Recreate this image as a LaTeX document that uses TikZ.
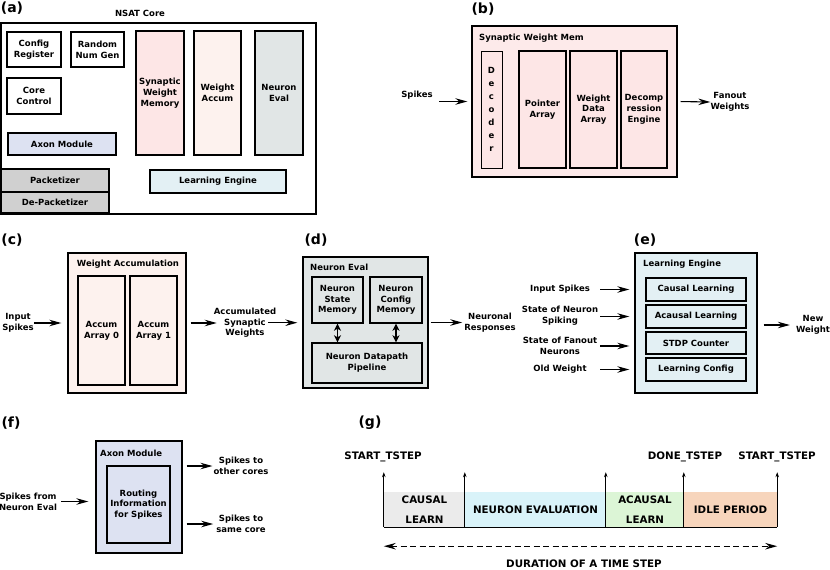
\documentclass[tikz,border=0pt]{standalone}
\usepackage{fontspec}
\setmainfont{DejaVu Sans}
\usetikzlibrary{arrows.meta}
\definecolor{cswm}{HTML}{FDE6E6}
\definecolor{cwacc}{HTML}{FDF2EE}
\definecolor{cneval}{HTML}{E1E6E6}
\definecolor{caxon}{HTML}{DDE2F2}
\definecolor{cpack}{HTML}{D0D0D0}
\definecolor{cleng}{HTML}{E3F0F4}
\definecolor{gcausal}{HTML}{EBEBEB}
\definecolor{gneuron}{HTML}{D9F3F9}
\definecolor{gacausal}{HTML}{DCF5D6}
\definecolor{gidle}{HTML}{F7D5BC}
\newcommand\lbl{\fontsize{8.5}{10.7}\selectfont\bfseries}
\newcommand\glbl{\fontsize{10.3}{20}\selectfont\bfseries}
\tikzset{
  box/.style={draw, line width=1.4pt, align=center, inner sep=0pt, font=\lbl},
  sz/.style 2 args={minimum width=#1, minimum height=#2},
  txt/.style={align=center, inner sep=0pt, font=\lbl},
  arr/.style={-{Stealth[length=12pt,width=6.5pt,inset=4pt]}, line width=1.1pt},
  darr/.style={{Stealth[length=7pt,width=7pt,inset=2pt]}-{Stealth[length=7pt,width=7pt,inset=2pt]}, line width=1.7pt},
  varr/.style={-{Stealth[length=5pt,width=3.5pt]}, line width=1.1pt},
  tag/.style={font=\fontsize{14}{14}\selectfont\bfseries, inner sep=0pt},
  seg/.style={inner sep=0pt, align=center, font=\glbl},
}
\begin{document}
\begin{tikzpicture}[x=1pt,y=-1pt]
\useasboundingbox (0,0) rectangle (830,570);

% ---------- (a)
\node[tag] (ta) at (12,8) {(a)};
\node[txt] (nsat) at (140,13) {NSAT Core};
\node[box, line width=1.6pt, sz={315}{191}] (acore) at (158.5,118.5) {};
\node[box, sz={54}{35}] (cfg) at (34,49.5) {Config\\Register};
\node[box, sz={53}{35}] (rng) at (97.5,49.5) {Random\\Num Gen};
\node[box, sz={54}{36}] (cc) at (34,96) {Core\\Control};
\node[box, fill=caxon, sz={108}{22}] (axa) at (62,144) {Axon Module};
\node[box, fill=cswm, sz={48}{124}] (swm) at (160,93) {Synaptic\\Weight\\Memory};
\node[box, fill=cwacc, sz={47}{124}] (wacc) at (217.5,93) {Weight\\Accum};
\node[box, fill=cneval, sz={48}{124}] (nev) at (279,93) {Neuron\\Eval};
\node[box, fill=cpack, sz={108}{23}] (pack) at (55,180.5) {Packetizer};
\node[box, fill=cpack, sz={108}{21}] (dpack) at (55,202.5) {De-Packetizer};
\node[box, fill=cleng, sz={136}{23}] (leng) at (218,181.5) {Learning Engine};

% ---------- (b)
\node[tag] (tb) at (483,9) {(b)};
\node[box, fill=cswm!85!white, sz={205}{151}] (bbox) at (574.5,101.5) {};
\node[txt, anchor=west] (btitle) at (479,38) {Synaptic Weight Mem};
\node[box, line width=1pt, fill=cswm, sz={21}{117}, font=\fontsize{8.5}{12.9}\selectfont\bfseries] (dec) at (491.5,109.5) {D\\e\\c\\o\\d\\e\\r};
\node[box, fill=cswm, sz={47}{117}] (ptr) at (542.5,109.5) {Pointer\\Array};
\node[box, fill=cswm, sz={47}{117}] (wda) at (593.5,109.5) {Weight\\Data\\Array};
\node[box, fill=cswm, sz={46}{117}] (dce) at (644,109.5) {Decomp\\ression\\Engine};
\node[txt] (spk) at (417,95) {Spikes};
\node[txt] (fw) at (730,102) {Fanout\\Weights};
\draw[arr, shorten >=4pt] ([xshift=-32pt]bbox.west) -- (bbox.west);
\draw[arr, shorten <=3pt] (bbox.east) -- (fw.west);

% ---------- (c)
\node[tag] (tc) at (12,240) {(c)};
\node[box, fill=cwacc, sz={118}{140}] (cbox) at (127,323) {};
\node[txt] (ctitle) at (128,264) {Weight Accumulation};
\node[box, fill=cwacc, sz={47}{109}] (aa0) at (101.5,330.5) {Accum\\Array 0};
\node[box, fill=cwacc, sz={47}{109}] (aa1) at (153.5,330.5) {Accum\\Array 1};
\node[txt] (inS) at (18,322.5) {Input\\Spikes};
\node[txt] (acw) at (245,322.7) {Accumulated\\Synaptic\\Weights};
\draw[arr, shorten >=6pt] (inS.east |- cbox.west) -- (cbox.west);
\draw[arr, shorten <=4pt] (cbox.east) -- ([xshift=3pt]acw.west |- cbox.east);

% ---------- (d)
\node[tag] (td) at (316,240) {(d)};
\node[box, fill=cneval, sz={125}{131}] (dbox) at (365.5,322.5) {};
\node[txt, anchor=west] (dtitle) at (310,267.5) {Neuron Eval};
\node[box, fill=cneval, sz={51}{46}] (nsm) at (337.5,300) {Neuron\\State\\Memory};
\node[box, fill=cneval, sz={52}{46}] (ncm) at (396,300) {Neuron\\Config\\Memory};
\node[box, fill=cneval, sz={110}{40}] (ndp) at (367,363) {Neuron Datapath\\Pipeline};
\draw[darr] (nsm.south) -- (nsm.south |- ndp.north);
\draw[darr] (ncm.south) -- (ncm.south |- ndp.north);
\draw[arr, shorten >=5pt] ([xshift=23pt]acw.center) -- (dbox.west |- acw.center);
\node[txt] (nresp) at (490,322.5) {Neuronal\\Responses};
\draw[arr, shorten <=2pt, shorten >=2pt] (dbox.east) -- (nresp.west |- dbox.east);

% ---------- (e)
\node[tag] (te) at (645,240) {(e)};
\node[box, fill=cleng, sz={122}{140}] (ebox) at (696,323) {};
\node[txt, anchor=west] (etitle) at (643,264) {Learning Engine};
\node[box, fill=cleng, sz={100}{23}] (cl) at (696,289.5) {Causal Learning};
\node[box, fill=cleng, sz={100}{23}] (al) at (696,316.5) {Acausal Learning};
\node[box, fill=cleng, sz={100}{22}] (stdp) at (696,343) {STDP Counter};
\node[box, fill=cleng, sz={100}{23}] (lc) at (696,369.5) {Learning Config};
\node[txt] (ei1) at (560,289) {Input Spikes};
\node[txt] (ei2) at (560,316) {State of Neuron\\Spiking};
\node[txt] (ei3) at (560,345.5) {State of Fanout\\Neurons};
\node[txt] (ei4) at (560,369) {Old Weight};
\draw[arr, shorten >=5pt] ([xshift=-34pt]ebox.west |- cl) -- (ebox.west |- cl);
\draw[arr, shorten >=5pt] ([xshift=-34pt]ebox.west |- al) -- (ebox.west |- al);
\draw[arr, shorten >=5pt] ([xshift=-34pt,yshift=-3pt]ebox.west |- stdp) -- ([yshift=-3pt]ebox.west |- stdp);
\draw[arr, shorten >=5pt] ([xshift=-34pt]ebox.west |- lc) -- (ebox.west |- lc);
\node[txt] (nw) at (813,325) {New\\Weight};
\draw[arr, shorten <=6pt, shorten >=6pt] (ebox.east |- nw) -- (nw.west);

% ---------- (f)
\node[tag] (tf) at (11,423) {(f)};
\node[box, fill=caxon, sz={86}{112}] (fbox) at (139,497) {};
\node[txt, anchor=west] (ftitle) at (100,453) {Axon Module};
\node[box, fill=caxon, sz={63}{77}] (rt) at (138.5,504.5) {Routing\\Information\\for Spikes};
\node[txt] (sfn) at (28,501.5) {Spikes from\\Neuron Eval};
\node[txt] (so) at (241,466) {Spikes to\\other cores};
\node[txt] (ss) at (241,524) {Spikes to\\same core};
\draw[arr, shorten <=4pt, shorten >=7pt] (sfn.east) -- (fbox.west |- sfn.east);
\draw[arr, shorten <=4pt, shorten >=1pt] (fbox.east |- so) -- (so.west);
\draw[arr, shorten <=4pt, shorten >=3pt] (fbox.east |- ss) -- (ss.west);

% ---------- (g)
\node[tag] (tg) at (370,423) {(g)};
\node[seg, fill=gcausal, sz={81}{35}] (gc) at (424.5,509.5) {CAUSAL\\LEARN};
\node[seg, fill=gneuron, sz={141}{35}] (gn) at (535.5,509.5) {NEURON EVALUATION};
\node[seg, fill=gacausal, sz={78}{35}] (ga) at (645,509.5) {ACAUSAL\\LEARN};
\node[seg, fill=gidle, sz={93}{35}] (gi) at (730.5,509.5) {IDLE PERIOD};
\draw[line width=1.1pt] (gc.south west) -- (gi.south east);
\draw[varr] (gc.south west) -- ++(0,-55);
\draw[varr] (gn.south west) -- ++(0,-55);
\draw[varr] (ga.south west) -- ++(0,-55);
\draw[varr] (gi.south west) -- ++(0,-55);
\draw[varr] (gi.south east) -- ++(0,-55);
\node[seg] (s1) at (383,457) {START\_TSTEP};
\node[seg] (d1) at (685,457) {DONE\_TSTEP};
\node[seg] (s2) at (777,457) {START\_TSTEP};
\draw[{Stealth[length=12pt,width=6.5pt,inset=4pt]}-{Stealth[length=12pt,width=6.5pt,inset=4pt]}, line width=1.2pt, dash pattern=on 6pt off 3.5pt]
  ([yshift=-19pt]gc.south west) -- ([yshift=-19pt]gi.south east);
\node[seg] (dur) at (584,563.5) {DURATION OF A TIME STEP};
\end{tikzpicture}
\end{document}
